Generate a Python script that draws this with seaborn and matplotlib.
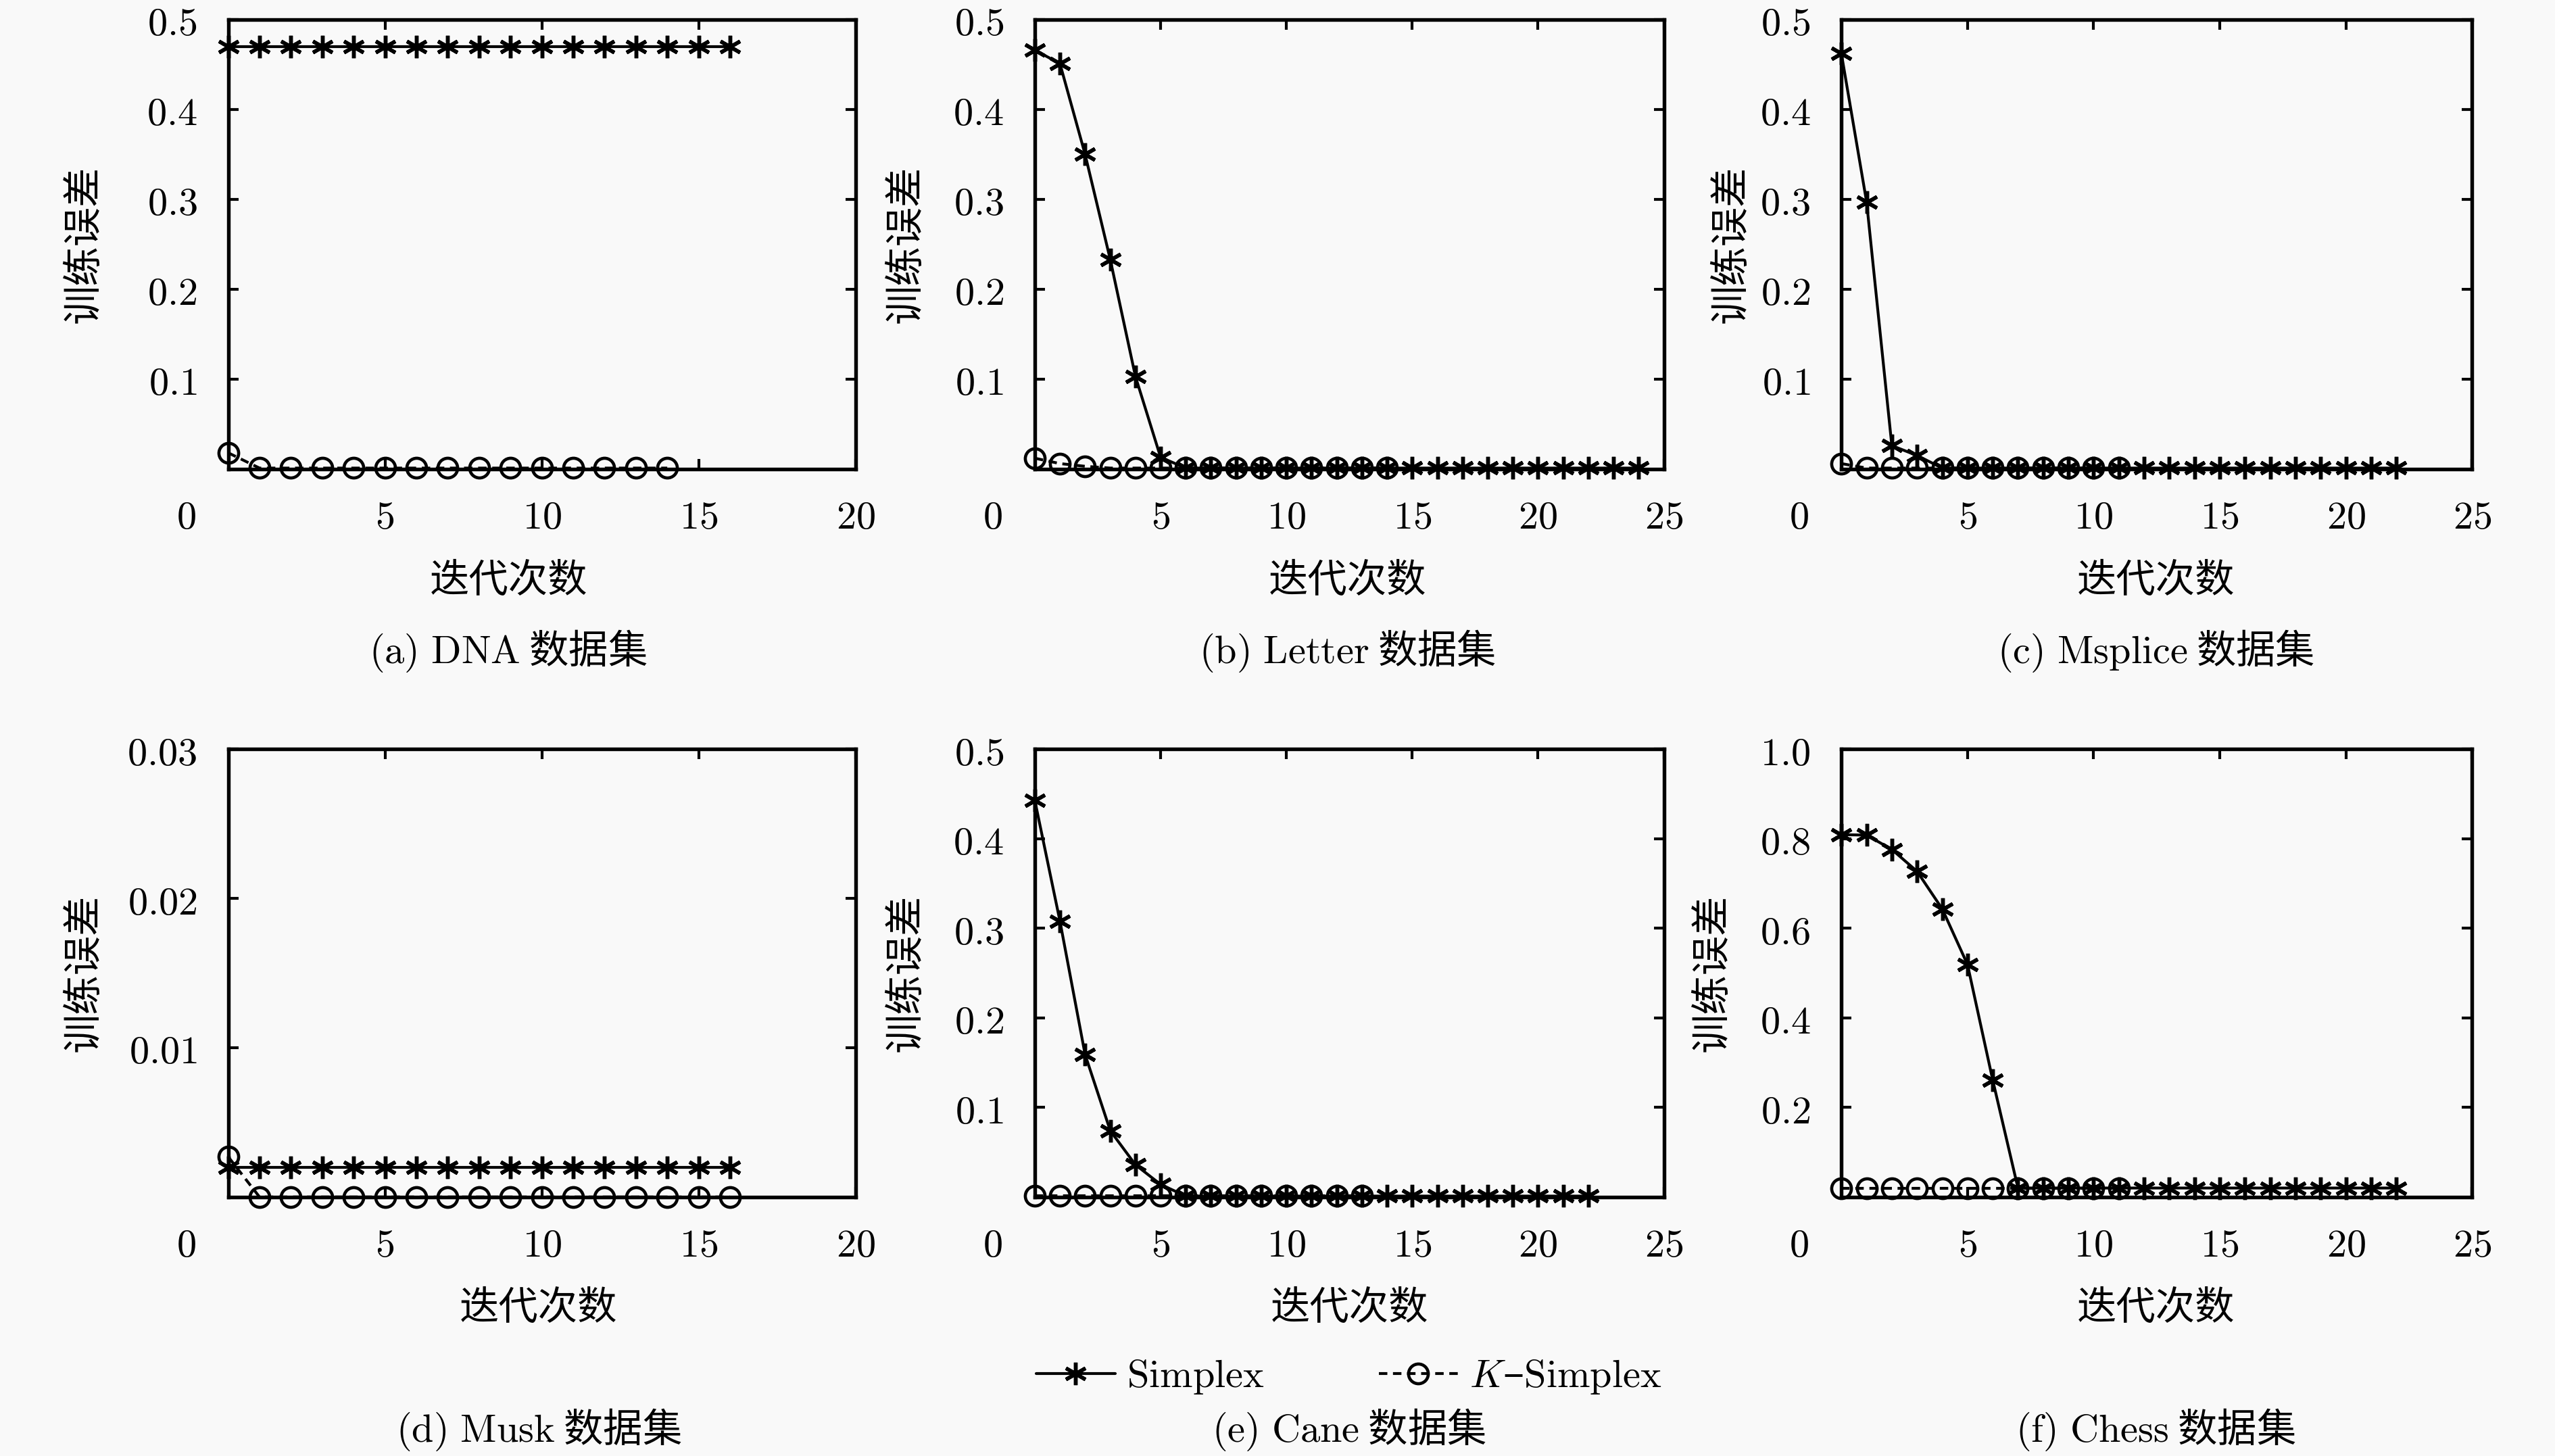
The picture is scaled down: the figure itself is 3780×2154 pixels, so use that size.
import matplotlib
matplotlib.use('Agg')
import matplotlib.pyplot as plt
import seaborn as sns
import pandas as pd

# 各数据集的训练误差
dna_simplex = [0.470, 0.470, 0.470, 0.470, 0.470, 0.470, 0.470, 0.470, 0.470,
               0.470, 0.470, 0.470, 0.470, 0.470, 0.470, 0.470, 0.470]
dna_ksimplex = [0.018, 0.001, 0.001, 0.001, 0.001, 0.001, 0.001, 0.001,
                0.001, 0.001, 0.001, 0.001, 0.001, 0.001, 0.001]

letter_simplex = [0.466, 0.451, 0.350, 0.233, 0.103, 0.013, 0.001, 0.001, 0.001,
                  0.001, 0.001, 0.001, 0.001, 0.001, 0.001, 0.001, 0.001, 0.001,
                  0.001, 0.001, 0.001, 0.001, 0.001, 0.001, 0.001]
letter_ksimplex = [0.012, 0.006, 0.003, 0.001, 0.001, 0.001, 0.001, 0.001,
                   0.001, 0.001, 0.001, 0.001, 0.001, 0.001, 0.001]

msplice_simplex = [0.462, 0.297, 0.026, 0.015, 0.001, 0.001, 0.001, 0.001,
                   0.001, 0.001, 0.001, 0.001, 0.001, 0.001, 0.001, 0.001,
                   0.001, 0.001, 0.001, 0.001, 0.001, 0.001, 0.001]
msplice_ksimplex = [0.006, 0.001, 0.001, 0.001, 0.001, 0.001, 0.001, 0.001,
                    0.001, 0.001, 0.001, 0.001]

musk_simplex = [0.0020, 0.0020, 0.0020, 0.0020, 0.0020, 0.0020, 0.0020, 0.0020,
                0.0020, 0.0020, 0.0020, 0.0020, 0.0020, 0.0020, 0.0020, 0.0020,
                0.0020]
musk_ksimplex = [0.0027, 0.0, 0.0, 0.0, 0.0, 0.0, 0.0, 0.0, 0.0, 0.0, 0.0,
                 0.0, 0.0, 0.0, 0.0, 0.0, 0.0]

cane_simplex = [0.443, 0.308, 0.159, 0.074, 0.036, 0.014, 0.001, 0.001, 0.001,
                0.001, 0.001, 0.001, 0.001, 0.001, 0.001, 0.001, 0.001, 0.001,
                0.001, 0.001, 0.001, 0.001, 0.001]
cane_ksimplex = [0.001, 0.001, 0.001, 0.001, 0.001, 0.001, 0.001, 0.001,
                 0.001, 0.001, 0.001, 0.001, 0.001, 0.001]

chess_simplex = [0.809, 0.808, 0.776, 0.727, 0.643, 0.519, 0.261, 0.020, 0.020,
                 0.020, 0.020, 0.020, 0.020, 0.020, 0.020, 0.020, 0.020, 0.020,
                 0.020, 0.020, 0.020, 0.020, 0.020]
chess_ksimplex = [0.020, 0.020, 0.020, 0.020, 0.020, 0.020, 0.020, 0.020,
                  0.020, 0.020, 0.020, 0.020]

# 坐标轴刻度
xticks_20 = [5, 10, 15, 20]
xticks_25 = [5, 10, 15, 20, 25]
yticks_05 = [0.1, 0.2, 0.3, 0.4, 0.5]
ylabels_05 = ['0.1', '0.2', '0.3', '0.4', '0.5']
yticks_003 = [0.01, 0.02, 0.03]
ylabels_003 = ['0.01', '0.02', '0.03']
yticks_10 = [0.2, 0.4, 0.6, 0.8, 1.0]
ylabels_10 = ['0.2', '0.4', '0.6', '0.8', '1.0']

captions = ['(a)\\ DNA', '(b)\\ Letter', '(c)\\ Msplice',
            '(d)\\ Musk', '(e)\\ Cane', '(f)\\ Chess']

BG = '#f9f9f9'
FS = 14

sns.set_theme(style='ticks', rc={
    'axes.edgecolor': 'black', 'axes.labelcolor': 'black', 'text.color': 'black',
    'xtick.color': 'black', 'ytick.color': 'black',
    'axes.facecolor': BG, 'figure.facecolor': BG,
})
plt.rcParams['font.family'] = ['Noto Sans CJK SC', 'DejaVu Sans']
plt.rcParams['mathtext.fontset'] = 'cm'
plt.rcParams['axes.unicode_minus'] = False

ASTERISK = (6, 2, 0)


def draw_panel(ax, simplex, ksimplex, xmax, xticks, ymax, yticks, ylabels,
               caption, ylab_x, mid_x, cap_y):
    df_s = pd.DataFrame({'iter': list(range(len(simplex))), 'err': simplex})
    df_k = pd.DataFrame({'iter': list(range(len(ksimplex))), 'err': ksimplex})

    sns.lineplot(data=df_s, x='iter', y='err', ax=ax, color='black', lw=1.0,
                 marker=ASTERISK, ms=8, mec='black', mew=1.3, clip_on=False,
                 errorbar=None, legend=False, label='Simplex')
    sns.lineplot(data=df_k, x='iter', y='err', ax=ax, color='black', lw=1.0,
                 linestyle=(0, (3, 2)), marker='o', ms=7, mfc='none',
                 mec='black', mew=1.1, clip_on=False,
                 errorbar=None, legend=False, label='K-Simplex')

    ax.set_xlim(0, xmax)
    ax.set_ylim(0, ymax)
    ax.set_xticks(xticks, labels=[f'${t}$' for t in xticks])
    ax.set_yticks(yticks, labels=[f'${t}$' for t in ylabels])
    ax.tick_params(direction='in', top=True, right=True, length=3.5, width=1.0,
                   labelsize=FS)
    ax.tick_params(axis='x', pad=10)
    ax.tick_params(axis='y', pad=11)
    for sp in ax.spines.values():
        sp.set_linewidth(1.3)
        sp.set_color('black')
    ax.grid(False)

    # 原点处的 "0"
    ax.annotate('$0$', xy=(0, 0), xycoords='axes fraction', xytext=(-15, -10),
                textcoords='offset points', ha='center', va='top', fontsize=FS)

    ax.set_xlabel('迭代次数', fontsize=FS)
    ax.set_ylabel('训练误差', fontsize=FS)
    ax.xaxis.label.set_va('center')
    ax.yaxis.label.set_va('center')
    ax.xaxis.set_label_coords(mid_x, -0.249)
    ax.yaxis.set_label_coords(ylab_x, 0.5)

    ax.text(mid_x, cap_y, f'$\\mathrm{{{caption}}}$ 数据集', transform=ax.transAxes,
            ha='center', va='center', fontsize=FS)


fig = plt.figure(figsize=(12.6, 7.18), dpi=300)

lefts = [0.0893, 0.405, 0.7207]
widths = [0.2455, 0.2462, 0.2468]
top_b, top_h = 0.6779, 0.3087
bot_b, bot_h = 0.1779, 0.3076

ax_a = fig.add_axes([lefts[0], top_b, widths[0], top_h])
ax_b = fig.add_axes([lefts[1], top_b, widths[1], top_h])
ax_c = fig.add_axes([lefts[2], top_b, widths[2], top_h])
ax_d = fig.add_axes([lefts[0], bot_b, widths[0], bot_h])
ax_e = fig.add_axes([lefts[1], bot_b, widths[1], bot_h])
ax_f = fig.add_axes([lefts[2], bot_b, widths[2], bot_h])

draw_panel(ax_a, dna_simplex, dna_ksimplex, 20, xticks_20, 0.5, yticks_05, ylabels_05,
           captions[0], -0.23, 0.447, -0.405)
draw_panel(ax_b, letter_simplex, letter_ksimplex, 25, xticks_25, 0.5, yticks_05, ylabels_05,
           captions[1], -0.205, 0.497, -0.405)
draw_panel(ax_c, msplice_simplex, msplice_ksimplex, 25, xticks_25, 0.5, yticks_05, ylabels_05,
           captions[2], -0.175, 0.499, -0.405)
draw_panel(ax_d, musk_simplex, musk_ksimplex, 20, xticks_20, 0.03, yticks_003, ylabels_003,
           captions[3], -0.23, 0.495, -0.52)
draw_panel(ax_e, cane_simplex, cane_ksimplex, 25, xticks_25, 0.5, yticks_05, ylabels_05,
           captions[4], -0.205, 0.5, -0.52)
draw_panel(ax_f, chess_simplex, chess_ksimplex, 25, xticks_25, 1.0, yticks_10, ylabels_10,
           captions[5], -0.205, 0.499, -0.52)

# 图例 (放在底部中间)
handles = ax_e.get_lines()[:2]
fig.legend(handles, [r'$\mathrm{Simplex}$', r'$K$–$\mathrm{Simplex}$'],
           loc='center', bbox_to_anchor=(0.528, 0.0548), ncol=2, frameon=False,
           fontsize=FS, handlelength=2.0, handletextpad=0.3, columnspacing=2.9,
           numpoints=1)

fig.savefig('out.png', dpi=300, facecolor=BG)
plt.close(fig)
